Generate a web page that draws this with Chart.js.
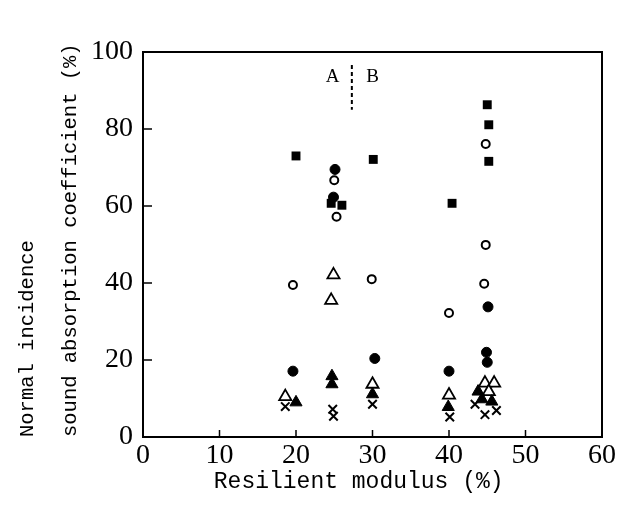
<!DOCTYPE html>
<html>
<head>
<meta charset="utf-8">
<script src="https://cdn.jsdelivr.net/npm/chart.js@4.4.0/dist/chart.umd.min.js"></script>
<style>
  html, body { margin: 0; padding: 0; background: #fff; }
  #wrap { width: 620px; height: 508px; }
</style>
</head>
<body>
<div id="wrap"><canvas id="chart" width="620" height="508"></canvas></div>
<script>
// tick values
const xTicks = [0, 10, 20, 30, 40, 50, 60];
const yTicks = [0, 20, 40, 60, 80, 100];

// series (x = resilient modulus %, y = absorption %)
const filledSquares = [
    { x: 20, y: 73 }, { x: 30.1, y: 72.1 }, { x: 24.6, y: 60.7 }, { x: 26, y: 60.2 },
    { x: 40.4, y: 60.7 }, { x: 45, y: 86.3 }, { x: 45.2, y: 81.1 }, { x: 45.2, y: 71.6 }
];
const openCircles = [
    { x: 19.6, y: 39.5 }, { x: 25, y: 66.7 }, { x: 25.3, y: 57.2 }, { x: 29.9, y: 41 },
    { x: 40, y: 32.2 }, { x: 44.8, y: 76.1 }, { x: 44.8, y: 49.9 }, { x: 44.6, y: 39.8 }
];
const filledCircles = [
    { x: 19.6, y: 17.1 }, { x: 25.1, y: 69.5 }, { x: 24.9, y: 62.3 }, { x: 30.3, y: 20.4 },
    { x: 40, y: 17.1 }, { x: 45.1, y: 33.8 }, { x: 44.9, y: 22 }, { x: 45, y: 19.4 }
];
const openTriangles = [
    { x: 18.6, y: 10.5 }, { x: 24.9, y: 42.1 }, { x: 24.6, y: 35.5 }, { x: 30, y: 13.7 },
    { x: 40, y: 10.9 }, { x: 44.7, y: 14 }, { x: 45.9, y: 14 }, { x: 45.2, y: 11.8 }
];
const filledTriangles = [
    { x: 20, y: 9 }, { x: 24.7, y: 15.8 }, { x: 24.7, y: 13.7 }, { x: 30, y: 11.1 },
    { x: 39.9, y: 7.8 }, { x: 43.8, y: 11.8 }, { x: 44.3, y: 9.8 }, { x: 45.6, y: 9.2 }
];
const crosses = [
    { x: 18.6, y: 7.9 }, { x: 24.8, y: 7.2 }, { x: 24.9, y: 5.4 }, { x: 30, y: 8.5 },
    { x: 40.1, y: 5.2 }, { x: 43.4, y: 8.5 }, { x: 44.7, y: 5.8 }, { x: 46.2, y: 6.9 }
];
// A | B divider
const divider = [{ x: 27.3, y: 96.6 }, { x: 27.3, y: 85 }];

const framePlugin = {
    id: "frame",
    afterDraw(chart) {
        const { ctx, chartArea: a, scales: { x, y } } = chart;
        ctx.save();
        ctx.strokeStyle = "#000";
        ctx.lineWidth = 2;
        ctx.strokeRect(a.left, a.top, a.right - a.left, a.bottom - a.top);
        ctx.lineWidth = 1.5;
        ctx.beginPath();
        xTicks.forEach(v => {
            const px = x.getPixelForValue(v);
            ctx.moveTo(px, a.bottom);
            ctx.lineTo(px, a.bottom - 7);
        });
        yTicks.forEach(v => {
            const py = y.getPixelForValue(v);
            ctx.moveTo(a.left, py);
            ctx.lineTo(a.left + 9, py);
        });
        ctx.stroke();
        // zone labels either side of the divider
        ctx.fillStyle = "#000";
        ctx.font = '19px "Liberation Serif"';
        ctx.textAlign = "center";
        ctx.textBaseline = "middle";
        ctx.fillText("A", x.getPixelForValue(24.8), y.getPixelForValue(93.6));
        ctx.fillText("B", x.getPixelForValue(30), y.getPixelForValue(93.6));
        ctx.restore();
    }
};

const black = "#000";
function markers(data, style, radius, filled, bw) {
    return {
        data: data,
        pointStyle: style,
        pointRadius: radius,
        pointHoverRadius: radius,
        pointBorderWidth: bw,
        pointBorderColor: black,
        pointBackgroundColor: filled ? black : "#fff",
        showLine: false
    };
}

new Chart(document.getElementById("chart"), {
    type: "scatter",
    data: {
        datasets: [
            markers(crosses, "crossRot", 6, false, 2),
            markers(filledTriangles, "triangle", 7, true, 1),
            markers(openTriangles, "triangle", 7, false, 1.8),
            markers(filledCircles, "circle", 5, true, 1),
            markers(openCircles, "circle", 4, false, 2),
            markers(filledSquares, "rect", 6.3, true, 0),
            {
                data: divider,
                showLine: true,
                pointRadius: 0,
                borderColor: black,
                borderWidth: 2,
                borderDash: [4, 3]
            }
        ]
    },
    options: {
        responsive: false,
        animation: false,
        events: [],
        layout: { padding: { top: 52, right: 18, bottom: 0, left: 0 } },
        plugins: { legend: { display: false }, tooltip: { enabled: false } },
        scales: {
            x: {
                type: "linear",
                min: 0,
                max: 60,
                ticks: {
                    stepSize: 10,
                    color: black,
                    padding: 2,
                    maxRotation: 0,
                    font: { family: "Liberation Serif", size: 28 }
                },
                grid: { display: false, drawTicks: false },
                border: { display: false },
                title: {
                    display: true,
                    text: "Resilient modulus (%)  ",
                    color: black,
                    font: { family: "Liberation Mono", size: 23, lineHeight: 1.2 },
                    padding: { top: 0, bottom: 12 }
                },
                afterFit: s => { s.height = 71; }
            },
            y: {
                type: "linear",
                min: 0,
                max: 100,
                ticks: {
                    stepSize: 20,
                    color: black,
                    padding: 10,
                    font: { family: "Liberation Serif", size: 28 }
                },
                grid: { display: false, drawTicks: false },
                border: { display: false },
                title: {
                    display: true,
                    text: ["Normal incidence", "sound absorption coefficient (%)"],
                    align: "start",
                    color: black,
                    font: { family: "Liberation Mono", size: 20.5, lineHeight: 2.1 },
                    padding: { top: 6, bottom: 0 }
                },
                afterFit: s => { s.width = 143; }
            }
        }
    },
    plugins: [framePlugin]
});
</script>
</body>
</html>
